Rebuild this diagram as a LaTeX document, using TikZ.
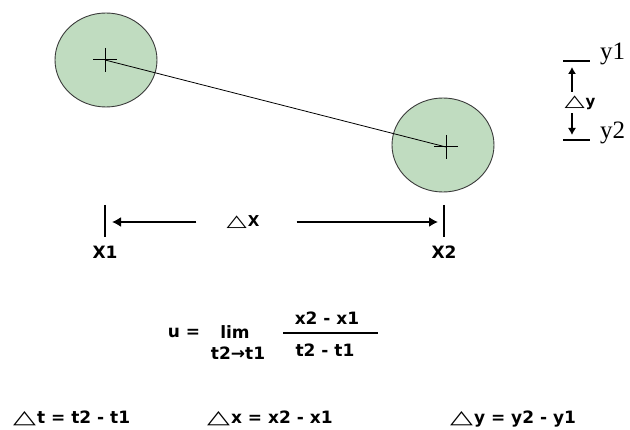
\documentclass[tikz,border=0pt]{standalone}
\usepackage{fontspec}
\setmainfont{DejaVu Sans}
\newfontfamily\timesface{Liberation Serif}
\usepackage{tikz}
\usetikzlibrary{arrows.meta,positioning,shapes.geometric}
\definecolor{disc}{HTML}{C0DCC0}
\definecolor{rim}{HTML}{3A3A3A}
\newcommand{\dl}{{\mdseries\scalebox{1.75}[1.1]{△}}\kern1pt}

\begin{document}
\begin{tikzpicture}[
  x=1pt, y=-1pt,
  font=\fontsize{17}{19}\selectfont\bfseries,
  ball/.style={ellipse, draw=rim, fill=disc, line width=0.9pt, minimum width=102pt, minimum height=94pt, inner sep=0pt},
  txt/.style={inner sep=0pt},
  serif/.style={inner sep=0pt, anchor=base west, font=\timesface\fontsize{25}{25}\selectfont},
  tick/.style={line width=1.1pt},
  dimarr/.style={-{Latex[length=9pt,width=10pt]}, line width=1.6pt},
  smallarr/.style={-{Latex[length=7pt,width=8pt]}, line width=1.1pt}
]
\useasboundingbox (0,0) rectangle (630,430);
% positions 1 and 2
\node[ball] (b1) at (106,60) {};
\node[ball] (b2) at (443,145) {};
\coordinate (c1) at (105,60);
\coordinate (c2) at (446,147);
\draw[line width=0.8pt] (c1) -- (c2);
\foreach \c in {c1,c2}
  \draw[line width=1pt] (\c) +(-12,0) -- +(12,0) (\c) +(0,-12) -- +(0,12);

% delta x
\coordinate (k1) at (105,205);
\coordinate (k2) at (444,205);
\draw[tick] (k1) -- ++(0,32);
\draw[tick] (k2) -- ++(0,32);
\node[txt] (x1) at (105,252) {X1};
\node[txt] (x2) at (444,252) {X2};
\node[txt, font=\fontsize{15}{16}\selectfont\bfseries] (dx) at (243,222) {\dl X};
\coordinate (a1) at (112,222);
\coordinate (a2) at (438,222);
\draw[dimarr, shorten <=30pt] (dx.west) -- (a1);
\draw[dimarr, shorten <=37pt] (dx.east) -- (a2);

% delta y
\coordinate (m1) at (563,61);
\coordinate (m2) at (563,140);
\draw[tick] (m1) -- ++(27,0);
\draw[tick] (m2) -- ++(27,0);
\node[serif] (y1) at (600,60) {y1};
\node[serif] (y2) at (600,139) {y2};
\node[txt, font=\fontsize{15}{16}\selectfont\bfseries] (dy) at (580,103) {\dl y};
\coordinate (u1) at (572,67);
\coordinate (u2) at (572,135);
\draw[smallarr] (dy.north -| u1) ++(0,-4) -- (u1);
\draw[smallarr] (dy.south -| u2) ++(0,3) -- (u2);

% velocity
\node[txt] (u) at (184,333) {u =};
\node[txt] (lim) at (235,332) {lim};
\node[txt] (to) at (238,353) {t2→t1};
\node[txt] (num) at (327,318) {x2 - x1};
\node[txt] (den) at (325,350) {t2 - t1};
\draw[line width=1.3pt] (283,333) -- (378,333);

% differences
\node[txt, anchor=base west] (dt) at (13,424) {\dl t = t2 - t1};
\node[txt, anchor=base west] (ddx) at (207,424) {\dl x = x2 - x1};
\node[txt, anchor=base west] (ddy) at (450,424) {\dl y = y2 - y1};
\end{tikzpicture}
\end{document}
